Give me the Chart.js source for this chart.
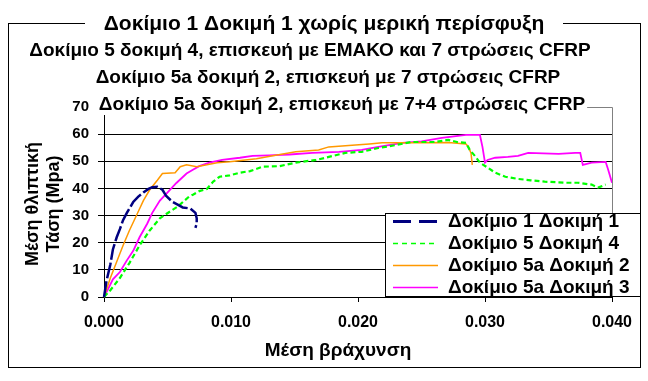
<!DOCTYPE html>
<html>
<head>
<meta charset="utf-8">
<script src="https://cdn.jsdelivr.net/npm/chart.js@4.4.0/dist/chart.umd.min.js"></script>
<style>
  html, body { margin: 0; padding: 0; background: #fff; }
  #wrap { width: 648px; height: 381px; }
</style>
</head>
<body>
<div id="wrap"><canvas id="chart" width="648" height="381"></canvas></div>
<script>
const FONT = '"Liberation Sans", Arial, sans-serif';

const titleLines = [
    'Δοκίμιο 1 Δοκιμή 1 χωρίς μερική περίσφυξη',
    'Δοκίμιο 5 δοκιμή 4, επισκευή με ΕΜΑΚΟ και 7 στρώσεις CFRP',
    'Δοκίμιο 5a δοκιμή 2, επισκευή με 7 στρώσεις CFRP',
    'Δοκίμιο 5a δοκιμή 2, επισκευή με 7+4 στρώσεις CFRP'
];
const seriesNames = ['Δοκίμιο 1 Δοκιμή 1', 'Δοκίμιο 5 Δοκιμή 4', 'Δοκίμιο 5a Δοκιμή 2', 'Δοκίμιο 5a Δοκιμή 3'];
const xTitle = 'Μέση βράχυνση';
const yTitle = ['Μέση θλιπτική', 'Τάση (Mpa)'];
const xTicks = [0, 0.01, 0.02, 0.03, 0.04];
const yTicks = [0, 10, 20, 30, 40, 50, 60, 70];

// Δοκίμιο 1 Δοκιμή 1
const strain1 = [0, 0.0002, 0.0005, 0.0007, 0.001, 0.00125, 0.0015, 0.0018, 0.0023, 0.0027, 0.0031, 0.0035, 0.0038, 0.0042, 0.0046, 0.0049, 0.0054, 0.0058, 0.0062, 0.0068, 0.0072, 0.0073, 0.0073, 0.0072];
const stress1 = [0, 6, 12, 17.5, 22, 25, 28.3, 31, 35, 37, 38.5, 39.8, 40.4, 40.6, 39.5, 37.2, 35, 34, 33, 32.6, 31, 29, 27, 25.5];

// Δοκίμιο 5 Δοκιμή 4
const strain2 = [0, 0.0005, 0.00125, 0.002, 0.0028, 0.0036, 0.0044, 0.0052, 0.0058, 0.0067, 0.007, 0.0075, 0.0081, 0.0086, 0.0091, 0.0099, 0.0107, 0.0115, 0.0125, 0.0138, 0.0151, 0.0167, 0.0177, 0.019, 0.0203, 0.0216, 0.023, 0.0242, 0.0261, 0.0271, 0.0279, 0.0285, 0.0288, 0.0292, 0.0296, 0.0301, 0.0308, 0.0316, 0.0326, 0.0336, 0.0347, 0.0363, 0.0373, 0.0384, 0.0389, 0.0395];
const stress2 = [0, 2.5, 7, 12.5, 19, 24.5, 29, 31.5, 33.3, 37, 37.7, 39, 39.8, 42.5, 44.3, 44.8, 45.8, 46.4, 48, 48.2, 49.5, 50.5, 51.6, 53.1, 53.5, 54.9, 56, 57.1, 57.1, 57.9, 57, 56.8, 54.2, 52, 49.5, 48, 45.8, 44.3, 43.5, 43, 42.5, 42.1, 42.1, 41.4, 40.3, 41.4];

// Δοκίμιο 5a Δοκιμή 2
const strain3 = [0, 0.0005, 0.001, 0.0015, 0.002, 0.0026, 0.0031, 0.0036, 0.0042, 0.0046, 0.0056, 0.006, 0.0065, 0.0073, 0.0081, 0.0089, 0.0099, 0.012, 0.0133, 0.0151, 0.0169, 0.0177, 0.0198, 0.0209, 0.0219, 0.0238, 0.0271, 0.0285, 0.0287, 0.0289, 0.029];
const stress3 = [0, 7, 13, 19, 24.5, 30.5, 35.5, 39.5, 43, 45.5, 45.8, 48, 48.7, 48, 48.7, 49.5, 49.8, 50.9, 52, 53.5, 54.2, 55.3, 56, 56.4, 56.8, 56.8, 56.9, 56.4, 55.3, 53, 48.7];

// Δοκίμιο 5a Δοκιμή 3
const strain4 = [0, 0.0002, 0.0007, 0.00125, 0.0018, 0.0023, 0.0028, 0.0034, 0.0038, 0.0044, 0.0049, 0.0057, 0.0065, 0.007, 0.0075, 0.0083, 0.0093, 0.0107, 0.0117, 0.013, 0.0146, 0.0164, 0.0185, 0.0203, 0.0216, 0.0235, 0.025, 0.0266, 0.0285, 0.0296, 0.0298, 0.03, 0.0302, 0.0308, 0.0318, 0.0326, 0.0334, 0.0358, 0.0371, 0.0375, 0.0377, 0.0384, 0.0395, 0.0397, 0.04, 0.0401];
const stress4 = [0, 1.8, 6.5, 9.2, 13.5, 17, 22, 27, 31, 35.5, 38, 42, 45.5, 46.9, 48.2, 49.5, 50.5, 51.3, 52, 52.2, 52.5, 53.1, 53.5, 54.2, 55.3, 56.8, 57.3, 58.6, 59.7, 59.7, 55.3, 49.5, 50.5, 51.3, 51.6, 52, 53.1, 52.7, 53.1, 53.1, 48.7, 49.5, 49.8, 46.9, 42.1, 40.7];

const colors = ['#000080', '#00ff00', '#ff9900', '#ff00ff'];

function pts(xs, ys) {
    return xs.map((x, i) => ({ x, y: ys[i] }));
}

// boxes, lines and texts that sit on top of the plot
const overlay = {
    id: 'overlay',
    afterDraw(chart) {
        const ctx = chart.ctx;
        const area = chart.chartArea;
        ctx.save();

        // grey plot border (top / right)
        ctx.strokeStyle = '#808080';
        ctx.lineWidth = 1;
        ctx.beginPath();
        ctx.moveTo(area.left, area.top + 0.5);
        ctx.lineTo(area.right + 0.5, area.top + 0.5);
        ctx.lineTo(area.right + 0.5, area.bottom);
        ctx.stroke();

        // outer frame
        ctx.strokeStyle = '#000';
        ctx.strokeRect(8.5, 23.5, 632, 344);

        // legend box
        ctx.fillStyle = '#fff';
        ctx.fillRect(385, 213, 256, 84);
        ctx.strokeRect(385.5, 213.5, 255, 83);
        const dashes = [[18, 8], [5, 4], [], []];
        const widths = [3, 1.5, 1.5, 1.5];
        ctx.font = 'bold 19px ' + FONT;
        ctx.textBaseline = 'middle';
        ctx.textAlign = 'left';
        seriesNames.forEach((name, i) => {
            const y = 221 + i * 22;
            ctx.save();
            ctx.strokeStyle = colors[i];
            ctx.lineWidth = widths[i];
            ctx.setLineDash(dashes[i]);
            ctx.beginPath();
            ctx.moveTo(393, y + 0.5);
            ctx.lineTo(438, y + 0.5);
            ctx.stroke();
            ctx.restore();
            ctx.fillStyle = '#000';
            ctx.fillText(name, 448, y + 1);
        });

        // titles with white boxes
        const titlePos = [[324, 23], [310, 50], [328, 77], [342, 104]];
        ctx.textAlign = 'center';
        titleLines.forEach((t, i) => {
            const [cx, cy] = titlePos[i];
            ctx.font = 'bold ' + (i === 0 ? 21 : 19) + 'px ' + FONT;
            const w = ctx.measureText(t).width;
            ctx.fillStyle = '#fff';
            if (i === 0) ctx.fillRect(85, cy - 11, 478, 22);
            else ctx.fillRect(cx - w / 2 - 2, cy - 10, w + 4, 21);
            ctx.fillStyle = '#000';
            ctx.fillText(t, cx, cy + 1);
        });

        // axis titles
        ctx.font = 'bold 19px ' + FONT;
        ctx.fillText(xTitle, 338, 351);
        ctx.font = 'bold 18px ' + FONT;
        ctx.save();
        ctx.translate(33, 204);
        ctx.rotate(-Math.PI / 2);
        ctx.fillText(yTitle[0], 0, 0);
        ctx.restore();
        ctx.save();
        ctx.translate(54, 204);
        ctx.rotate(-Math.PI / 2);
        ctx.fillText(yTitle[1], 0, 0);
        ctx.restore();

        ctx.restore();
    }
};

new Chart(document.getElementById('chart'), {
    type: 'scatter',
    data: {
        datasets: [
            { label: seriesNames[0], data: pts(strain1, stress1), borderColor: colors[0], borderWidth: 2.5, borderDash: [16, 3] },
            { label: seriesNames[1], data: pts(strain2, stress2), borderColor: colors[1], borderWidth: 2.2, borderDash: [5, 3] },
            { label: seriesNames[2], data: pts(strain3, stress3), borderColor: colors[2], borderWidth: 1.5 },
            { label: seriesNames[3], data: pts(strain4, stress4), borderColor: colors[3], borderWidth: 1.8 }
        ].map(d => Object.assign(d, { showLine: true, pointRadius: 0, fill: false, tension: 0, clip: 5 }))
    },
    options: {
        responsive: false,
        animation: false,
        layout: { padding: { top: 107, right: 36, left: 0, bottom: 0 } },
        plugins: { legend: { display: false }, tooltip: { enabled: false } },
        scales: {
            x: {
                type: 'linear',
                min: 0,
                max: 0.04,
                afterFit: s => { s.height = 84; },
                afterBuildTicks: s => { s.ticks = xTicks.map(v => ({ value: v })); },
                ticks: {
                    color: '#000',
                    font: { family: FONT, size: 16, weight: 'bold' },
                    padding: 11,
                    maxRotation: 0,
                    callback: v => v.toFixed(3)
                },
                grid: { drawOnChartArea: false, tickLength: 5, tickColor: '#000' },
                border: { color: '#000', width: 1 }
            },
            y: {
                min: 0,
                max: 70,
                afterFit: s => { s.width = 104; },
                afterBuildTicks: s => { s.ticks = yTicks.map(v => ({ value: v })); },
                ticks: {
                    color: '#000',
                    font: { family: FONT, size: 15, weight: 'bold' },
                    padding: 9
                },
                grid: {
                    color: c => (c.tick && c.tick.value > 0 && c.tick.value < 70) ? '#000' : 'rgba(0,0,0,0)',
                    tickColor: c => (c.tick && c.tick.value < 70) ? '#000' : 'rgba(0,0,0,0)',
                    tickLength: 6
                },
                border: { color: '#000', width: 1 }
            }
        }
    },
    plugins: [overlay]
});
</script>
</body>
</html>
